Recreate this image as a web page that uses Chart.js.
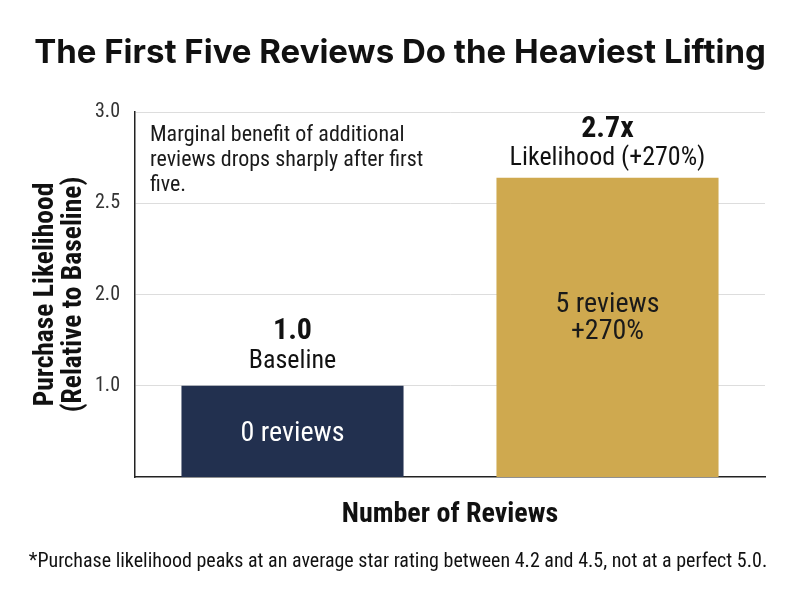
<!DOCTYPE html>
<html>
<head>
<meta charset="utf-8">
<script src="https://cdn.jsdelivr.net/npm/chart.js@4.4.1/dist/chart.umd.min.js"></script>
<style>
  html, body { margin: 0; padding: 0; background: #ffffff; }
  #wrap { width: 800px; height: 597px; position: relative; }
</style>
</head>
<body>
<div id="wrap"><canvas id="c"></canvas></div>
<script>
// ---- data ----
const categories = ['0 reviews', '5 reviews'];
const likelihood = [1.0, 2.64];
const yTickValues = [1.0, 2.0, 2.5, 3.0];
const topLabels = [['1.0', 'Baseline'], ['2.7x', 'Likelihood (+270%)']];
const insideLabels = [['0 reviews'], ['5 reviews', '+270%']];
const chartTitle = 'The First Five Reviews Do the Heaviest Lifting';
const yTitle = ['Purchase Likelihood', '(Relative to Baseline)'];
const xTitle = 'Number of Reviews';
const noteLines = ['Marginal benefit of additional', 'reviews drops sharply after first', 'five.'];
const footnote = '*Purchase likelihood peaks at an average star rating between 4.2 and 4.5, not at a perfect 5.0.';

// ---- piecewise axis: tick values evenly spaced as in the reference ----
const stopValues = [0].concat(yTickValues);
const stopDecimals = stopValues.map((v, i) => i / (stopValues.length - 1));
function interp(x, xs, ys) {
  if (x <= xs[0]) return ys[0] + (x - xs[0]) * (ys[1] - ys[0]) / (xs[1] - xs[0]);
  for (let i = 1; i < xs.length; i++) {
    if (x <= xs[i]) return ys[i - 1] + (x - xs[i - 1]) * (ys[i] - ys[i - 1]) / (xs[i] - xs[i - 1]);
  }
  const n = xs.length - 1;
  return ys[n] + (x - xs[n]) * (ys[n] - ys[n - 1]) / (xs[n] - xs[n - 1]);
}
class PiecewiseScale extends Chart.LinearScale {
  getPixelForValue(v) { return this.getPixelForDecimal(interp(v, stopValues, stopDecimals)); }
  getValueForPixel(p) { return interp(this.getDecimalForPixel(p), stopDecimals, stopValues); }
}
PiecewiseScale.id = 'piecewise';
PiecewiseScale.defaults = Chart.LinearScale.defaults;
Chart.register(PiecewiseScale);

const COND = "'Roboto Condensed', 'Liberation Sans Narrow', 'Arial Narrow', Roboto, sans-serif";

const labelPlugin = {
  id: 'labelPlugin',
  afterDatasetsDraw(chart) {
    const ctx = chart.ctx;
    const meta = chart.getDatasetMeta(0);
    const area = chart.chartArea;
    ctx.save();
    ctx.textAlign = 'center';
    ctx.textBaseline = 'middle';
    const topShift = [[-54, -24], [-48, -19.5]];
    const inShift = [3, -9];
    meta.data.forEach((bar, i) => {
      const top = bar.y, bottom = bar.base, x = bar.x;
      // labels above bars
      ctx.fillStyle = '#111';
      ctx.font = "700 30px " + COND;
      ctx.fillText(topLabels[i][0], x, top + topShift[i][0]);
      ctx.font = "400 26px " + COND;
      ctx.fillText(topLabels[i][1], x, top + topShift[i][1]);
      // labels inside bars
      const lines = insideLabels[i];
      const lh = 27;
      const mid = (top + bottom) / 2 + inShift[i];
      ctx.font = "400 28px " + COND;
      ctx.fillStyle = i === 0 ? '#ffffff' : '#1a1a1a';
      lines.forEach((t, k) => {
        ctx.fillText(t, x, mid + (k - (lines.length - 1) / 2) * lh);
      });
    });
    // note at top-left
    ctx.textAlign = 'left';
    ctx.fillStyle = '#1a1a1a';
    ctx.font = "400 22px " + COND;
    noteLines.forEach((t, k) => ctx.fillText(t, area.left + 15, area.top + 23 + k * 25));
    // footnote
    ctx.textAlign = 'center';
    ctx.font = "400 20px " + COND;
    ctx.fillStyle = '#111';
    ctx.fillText(footnote, 398, 562);
    ctx.restore();
  }
};

new Chart(document.getElementById('c'), {
  type: 'bar',
  data: {
    labels: categories,
    datasets: [{
      data: likelihood,
      backgroundColor: ['#22304F', '#CFA94F'],
      borderWidth: 0,
      barPercentage: 0.705,
      categoryPercentage: 1.0
    }]
  },
  options: {
    responsive: true,
    maintainAspectRatio: false,
    animation: false,
    layout: { padding: { left: 0, right: 0, top: 0, bottom: 0 } },
    plugins: {
      legend: { display: false },
      tooltip: { enabled: false },
      title: {
        display: true,
        text: chartTitle,
        color: '#111',
        font: { family: 'Inter, Roboto, sans-serif', weight: '700', size: 33, lineHeight: 1.2 },
        padding: { top: 33, bottom: 39.4 }
      }
    },
    scales: {
      x: {
        type: 'category',
        grid: { display: false, drawTicks: false },
        border: { display: true, color: '#222', width: 1.5 },
        ticks: { display: false },
        title: {
          display: true,
          text: xTitle,
          color: '#111',
          font: { family: COND, weight: '700', size: 28, lineHeight: 1.2 },
          padding: { top: 0, bottom: 65 }
        },
        afterFit(s) { s.height = 120; }
      },
      y: {
        type: 'piecewise',
        min: 0,
        max: 3,
        afterBuildTicks(s) { s.ticks = yTickValues.map(v => ({ value: v })); },
        grid: { color: '#dddddd', lineWidth: 1, drawTicks: false },
        border: { display: true, color: '#222', width: 1.5 },
        ticks: {
          padding: 15,
          color: '#333',
          font: { family: COND, size: 20 },
          callback: v => Number(v).toFixed(1)
        },
        title: {
          display: true,
          text: yTitle,
          color: '#111',
          font: { family: COND, weight: '700', size: 27.5, lineHeight: 1.03 },
          padding: { top: 32, bottom: 0 }
        },
        afterFit(s) { s.width = 135; }
      },
      yRight: {
        type: 'linear',
        position: 'right',
        display: true,
        grid: { display: false, drawTicks: false },
        border: { display: false },
        ticks: { display: false },
        afterFit(s) { s.width = 35; }
      }
    }
  },
  plugins: [labelPlugin]
});
</script>
</body>
</html>
